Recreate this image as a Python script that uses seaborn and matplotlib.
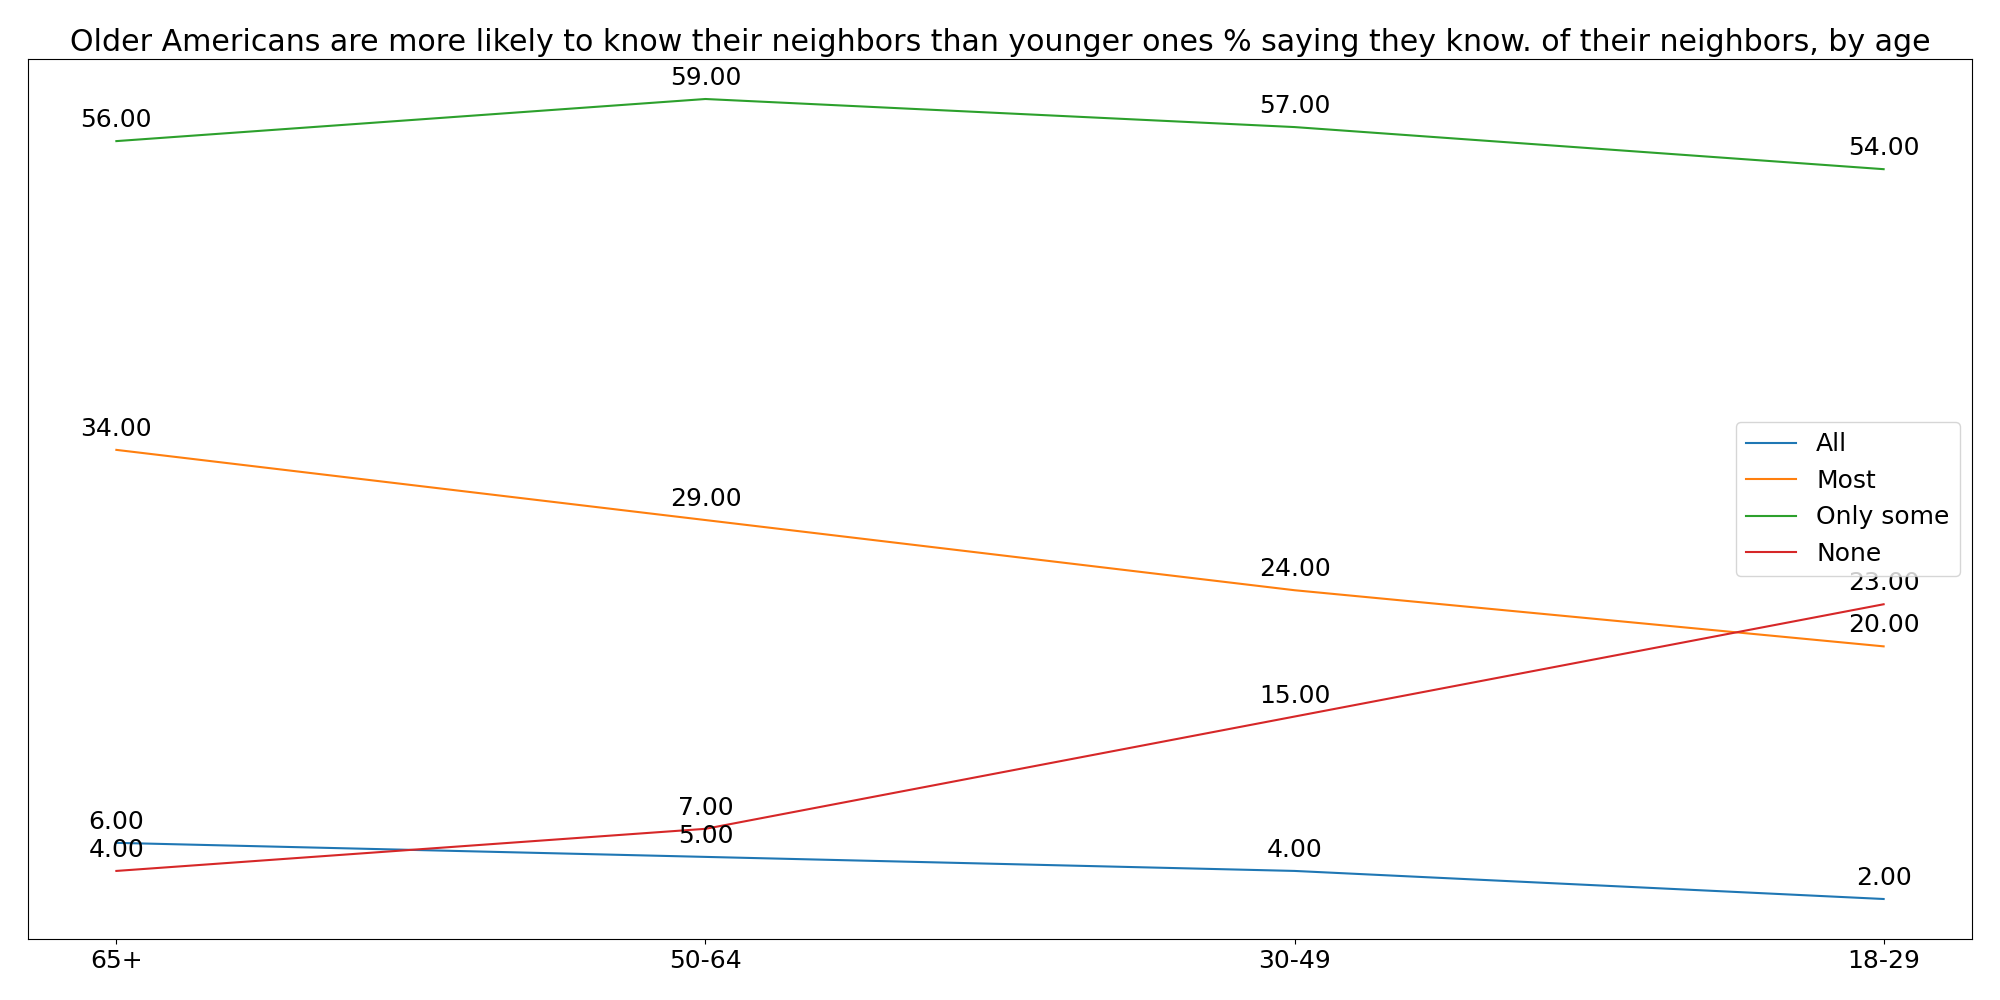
import matplotlib
matplotlib.use("Agg")
import matplotlib.pyplot as plt
import seaborn as sns
import pandas as pd

ages = ["65+", "50-64", "30-49", "18-29"]
series_names = ["All", "Most", "Only some", "None"]
all_vals = [6, 5, 4, 2]
most_vals = [34, 29, 24, 20]
only_some_vals = [56, 59, 57, 54]
none_vals = [4, 7, 15, 23]
title = "Older Americans are more likely to know their neighbors than younger ones % saying they know. of their neighbors, by age"

values = [all_vals, most_vals, only_some_vals, none_vals]
rows = []
for name, vals in zip(series_names, values):
    for a, v in zip(ages, vals):
        rows.append({"age": a, "share": v, "group": name})
df = pd.DataFrame(rows)

plt.rcParams['font.family'] = ['DejaVu Sans']
plt.rcParams['font.size'] = 18
fig, ax = plt.subplots(figsize=(20, 10), dpi=100)
sns.lineplot(data=df, x="age", y="share", hue="group", hue_order=series_names,
             palette="tab10", sort=False, ax=ax, linewidth=1.5)

for name, vals in zip(series_names, values):
    for i, v in enumerate(vals):
        ax.annotate(f"{v:.2f}", (i, v), xytext=(0, 10), textcoords="offset points",
                    ha="center", fontsize=18)

ax.set_title(title)
ax.set_xlabel("")
ax.set_ylabel("")
ax.set_yticks([])
ax.tick_params(axis="x", labelsize=18)
handles, labels = ax.get_legend_handles_labels()
ax.legend(handles, labels, loc="center right", fontsize=18)
fig.subplots_adjust(left=0.014, right=0.986, top=0.941, bottom=0.061)
fig.savefig("out.png")
